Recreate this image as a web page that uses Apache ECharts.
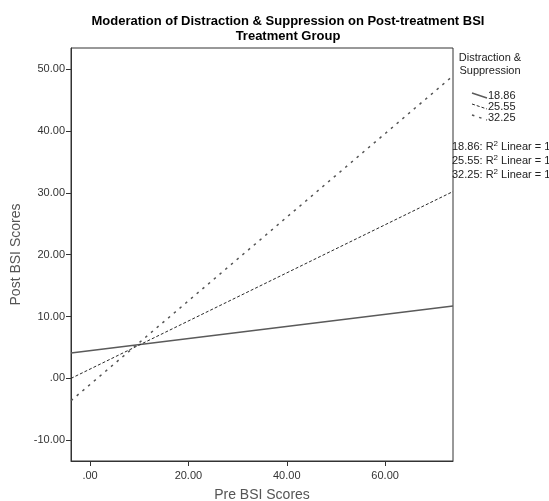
<!DOCTYPE html>
<html>
<head>
<meta charset="utf-8">
<script src="https://cdn.jsdelivr.net/npm/echarts@6/dist/echarts.min.js"></script>
<style>
  html, body { margin: 0; padding: 0; background: #fff; }
  #chart { width: 549px; height: 501px; }
</style>
</head>
<body>
<div id="chart"></div>
<script>
// Chart text
const titleLines = ['Moderation of Distraction & Suppression on Post-treatment BSI', 'Treatment Group'];
const legendTitle = ['Distraction &', 'Suppression'];
const xName = 'Pre BSI Scores';
const yName = 'Post BSI Scores';

// Moderator levels and fitted lines (post score at both ends of the pre-score range)
const groupLevels = ['18.86', '25.55', '32.25'];
const preRange = [-3.87, 73.8];
const postAtLow = [4.1, 0.0, -3.6];
const postAtHigh = [11.7, 30.2, 48.9];
const rSquared = [1, 1, 1];

// Axes
const xTicks = [0, 20, 40, 60];
const yTicks = [-10, 0, 10, 20, 30, 40, 50];
const yRange = [-13.35, 53.4];

const FONT = 'Liberation Sans, Arial, sans-serif';
const lineStyles = [
  { color: '#5a5a5a', width: 1.4, type: 'solid' },
  { color: '#2a2a2a', width: 1, type: [3, 2] },
  { color: '#555', width: 1.5, type: [2.5, 5] }
];
const fmt = v => (v === 0 ? '.00' : v.toFixed(2));

const chart = echarts.init(document.getElementById('chart'), null, { renderer: 'canvas' });

const series = groupLevels.map((lvl, i) => ({
  name: lvl,
  type: 'line',
  data: [[preRange[0], postAtLow[i]], [preRange[1], postAtHigh[i]]],
  showSymbol: false,
  symbol: 'none',
  lineStyle: lineStyles[i],
  silent: true,
  animation: false
}));

// Legend block at the right of the plot
const legendX = 490;
const legendItemY = [96, 107, 118];
const rsqY = [147, 161, 175];
const graphics = [];
titleLines.forEach((t, i) => {
  graphics.push({
    type: 'text', x: 288, y: 21 + i * 15,
    style: { text: t, font: 'bold 13px ' + FONT, fill: '#000', textAlign: 'center', textVerticalAlign: 'middle' }
  });
});
legendTitle.forEach((t, i) => {
  graphics.push({
    type: 'text', x: legendX, y: 58 + i * 13,
    style: { text: t, font: '11px ' + FONT, fill: '#222', textAlign: 'center', textVerticalAlign: 'middle' }
  });
});
groupLevels.forEach((lvl, i) => {
  const y = legendItemY[i];
  graphics.push({
    type: 'line',
    shape: { x1: 472, y1: y - 3, x2: 487, y2: y + 2 },
    style: { stroke: lineStyles[i].color, lineWidth: lineStyles[i].width, lineDash: lineStyles[i].type === 'solid' ? null : lineStyles[i].type }
  });
  graphics.push({
    type: 'text', x: 488, y: y,
    style: { text: lvl, font: '11px ' + FONT, fill: '#222', textAlign: 'left', textVerticalAlign: 'middle' }
  });
  graphics.push({
    type: 'text', x: 452, y: rsqY[i],
    style: {
      text: '{a|' + lvl + ': R}{s|2}{a| Linear = ' + rSquared[i] + '}',
      rich: {
        a: { font: '11px ' + FONT, fill: '#222' },
        s: { font: '8px ' + FONT, fill: '#222', verticalAlign: 'top', padding: [0, 0, 6, 0] }
      },
      textAlign: 'left', textVerticalAlign: 'middle'
    }
  });
});

const axisCommon = {
  axisLine: { show: true, onZero: false, lineStyle: { color: '#333', width: 1 } },
  axisTick: { show: true, length: 5, lineStyle: { color: '#333', width: 1 } },
  splitLine: { show: false },
  axisLabel: { color: '#333', fontSize: 11, fontFamily: FONT, formatter: fmt },
  nameLocation: 'middle',
  nameTextStyle: { color: '#555', fontSize: 14, fontFamily: FONT }
};

chart.setOption({
  animation: false,
  grid: {
    left: 71, right: 96, top: 48, bottom: 40,
    containLabel: false, outerBoundsMode: 'none',
    show: true, borderColor: '#333', borderWidth: 1, backgroundColor: '#fff'
  },
  xAxis: Object.assign({}, axisCommon, {
    type: 'value', min: preRange[0], max: preRange[1],
    name: xName, nameGap: 27,
    axisTick: Object.assign({}, axisCommon.axisTick, { customValues: xTicks }),
    axisLabel: Object.assign({}, axisCommon.axisLabel, { customValues: xTicks, margin: 9 })
  }),
  yAxis: Object.assign({}, axisCommon, {
    type: 'value', min: yRange[0], max: yRange[1],
    name: yName, nameGap: 41,
    axisTick: Object.assign({}, axisCommon.axisTick, { customValues: yTicks }),
    axisLabel: Object.assign({}, axisCommon.axisLabel, { customValues: yTicks, margin: 6 })
  }),
  series: series,
  graphic: graphics
});
</script>
</body>
</html>
